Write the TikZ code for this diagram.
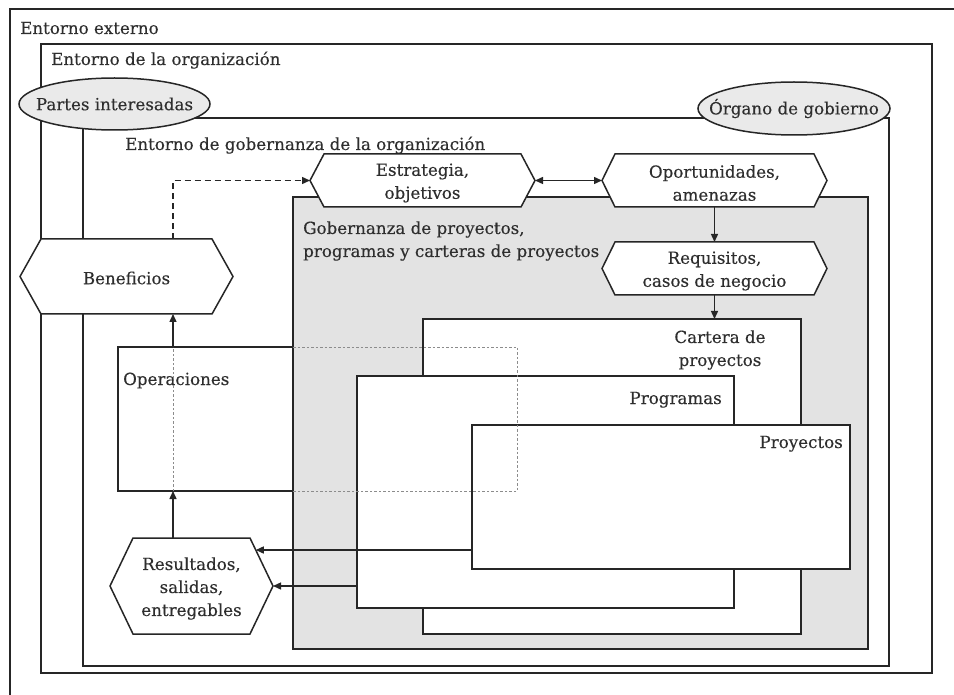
\documentclass[tikz,border=0pt]{standalone}
\usepackage{fontspec}
\setmainfont{DejaVu Serif}[FakeBold=0.3]
\usetikzlibrary{shapes.geometric,arrows.meta,calc}
\definecolor{ink}{HTML}{262626}
\definecolor{txt}{HTML}{2E2E2E}
\definecolor{govgray}{HTML}{E3E3E3}
\definecolor{ellgray}{HTML}{EAEAEA}
\definecolor{dotgray}{HTML}{8C8C8C}

% hexagonal outline around an invisible body node: #1 node name, #2 point length
\newcommand\drawhex[2]{%
  \filldraw[hexline] (#1.north west) -- (#1.north east)
    -- ([xshift=#2]#1.east) coordinate (#1-e)
    -- (#1.south east) -- (#1.south west)
    -- ([xshift=-#2]#1.west) coordinate (#1-w) -- cycle;}

\begin{document}
\begin{tikzpicture}[x=1pt,y=-1pt,
  every node/.style={text=txt, font=\fontsize{16.7}{23}\selectfont},
  frame/.style={draw=ink, line width=1.5pt},
  panel/.style={frame, rectangle, inner sep=0pt, outer sep=0pt, anchor=north west, fill=#1},
  panel/.default=white,
  hexbody/.style={rectangle, inner sep=0pt, outer sep=0pt, draw=none},
  hexline/.style={frame, fill=white, line join=miter},
  party/.style={ellipse, frame, fill=ellgray, inner sep=0pt},
  lbl/.style={inner sep=0pt},
  arr/.style={draw=ink, line width=1.4pt, -{Triangle[length=8pt,width=7pt]}},
  dblarr/.style={draw=ink, line width=1.4pt, {Triangle[length=8pt,width=7pt]}-{Triangle[length=8pt,width=7pt]}},
  dasharr/.style={arr, dash pattern=on 6pt off 4pt},
  ghost/.style={draw=dotgray, line width=0.9pt, dash pattern=on 2.5pt off 2pt},
]
\useasboundingbox (0,0) rectangle (954,695);

% external environment: only its top and left edges lie on the sheet
\draw[frame, line width=1.8pt] (10,700) -- (10,9) -- (960,9);
\node[lbl, anchor=base west] (ext-t) at (20,34) {Entorno externo};

% organisation environment
\node[panel, minimum width=891pt, minimum height=629pt] (org) at (41,44) {};
\node[lbl, anchor=base west] (org-t) at (51,65) {Entorno de la organización};

% governance environment
\node[panel, minimum width=806pt, minimum height=548pt] (env) at (83,118) {};
\node[lbl, anchor=base west] (env-t) at (125,150) {Entorno de gobernanza de la organización};

% stakeholders and governing body
\node[party, minimum width=191pt, minimum height=52pt] (stk) at (114.5,104) {};
\node[lbl] (stk-t) at (stk) {Partes interesadas};
\node[party, minimum width=192pt, minimum height=53pt] (gov) at (794,108.5) {};
\node[lbl] (gov-t) at (gov) {Órgano de gobierno};

% operations
\node[panel, minimum width=399pt, minimum height=144pt] (op) at (118,347) {};
\node[lbl, anchor=base west] (op-t) at (123,385) {Operaciones};

% project, programme and portfolio governance
\node[panel=govgray, minimum width=575pt, minimum height=452pt] (gpp) at (293,197) {};
\node[lbl, anchor=west, align=left] (gpp-t) at (303,241) {Gobernanza de proyectos,\\programas y carteras de proyectos};

\node[panel, minimum width=378pt, minimum height=315pt] (car) at (423,319) {};
\node[lbl, align=center] (car-t) at (720,350) {Cartera de\\proyectos};
\node[panel, minimum width=377pt, minimum height=232pt] (prg) at (357,376) {};
\node[lbl, anchor=base east] (prg-t) at (722,404) {Programas};
\node[panel, minimum width=378pt, minimum height=144pt] (pry) at (472,425) {};
\node[lbl, anchor=base east] (pry-t) at (843,448) {Proyectos};

% operations outline continued beneath the project layers
\draw[ghost] (op.north -| gpp.west) -- (op.north east) -- (op.south east) -- (op.south -| gpp.west);

% hexagonal items
\node[hexbody, minimum width=197pt, minimum height=53pt] (est) at (422.5,180.5) {};
\drawhex{est}{14pt}
\node[lbl, align=center] (est-t) at (422.5,183) {Estrategia,\\objetivos};

\node[hexbody, minimum width=199pt, minimum height=53pt] (opo) at (714.5,180.5) {};
\drawhex{opo}{13pt}
\node[lbl, align=center] (opo-t) at (714.5,183) {Oportunidades,\\amenazas};

\node[hexbody, minimum width=199pt, minimum height=53pt] (req) at (714.5,268.5) {};
\drawhex{req}{13pt}
\node[lbl, align=center] (req-t) at (714.5,271) {Requisitos,\\casos de negocio};

\node[hexbody, minimum width=171pt, minimum height=75pt] (ben) at (126.5,276.5) {};
\drawhex{ben}{21pt}
\node[lbl] (ben-t) at (126.5,278) {Beneficios};

\node[hexbody, minimum width=117pt, minimum height=96pt] (res) at (191.5,586) {};
\drawhex{res}{23pt}
\node[lbl, align=center] (res-t) at (191.5,588.5) {Resultados,\\salidas,\\entregables};

% connectors
\coordinate (axis) at (173,0);
\coordinate (res-q) at ($(res.north east)!0.25!(res-e)$);

\draw[dasharr] (ben.north -| axis) |- (est-w);
\draw[dblarr] (est-e) -- (opo-w);
\draw[arr] (opo.south) -- (req.north);
\draw[arr] (req.south) -- (req.south |- car.north);
\draw[arr] (res.north -| axis) -- (op.south -| axis);
\draw[ghost] (op.south -| axis) -- (op.north -| axis);
\draw[arr] (op.north -| axis) -- (ben.south -| axis);
\draw[arr] (pry.west |- res-q) -- (res-q);
\draw[arr] (prg.west |- res-e) -- (res-e);
\end{tikzpicture}
\end{document}
